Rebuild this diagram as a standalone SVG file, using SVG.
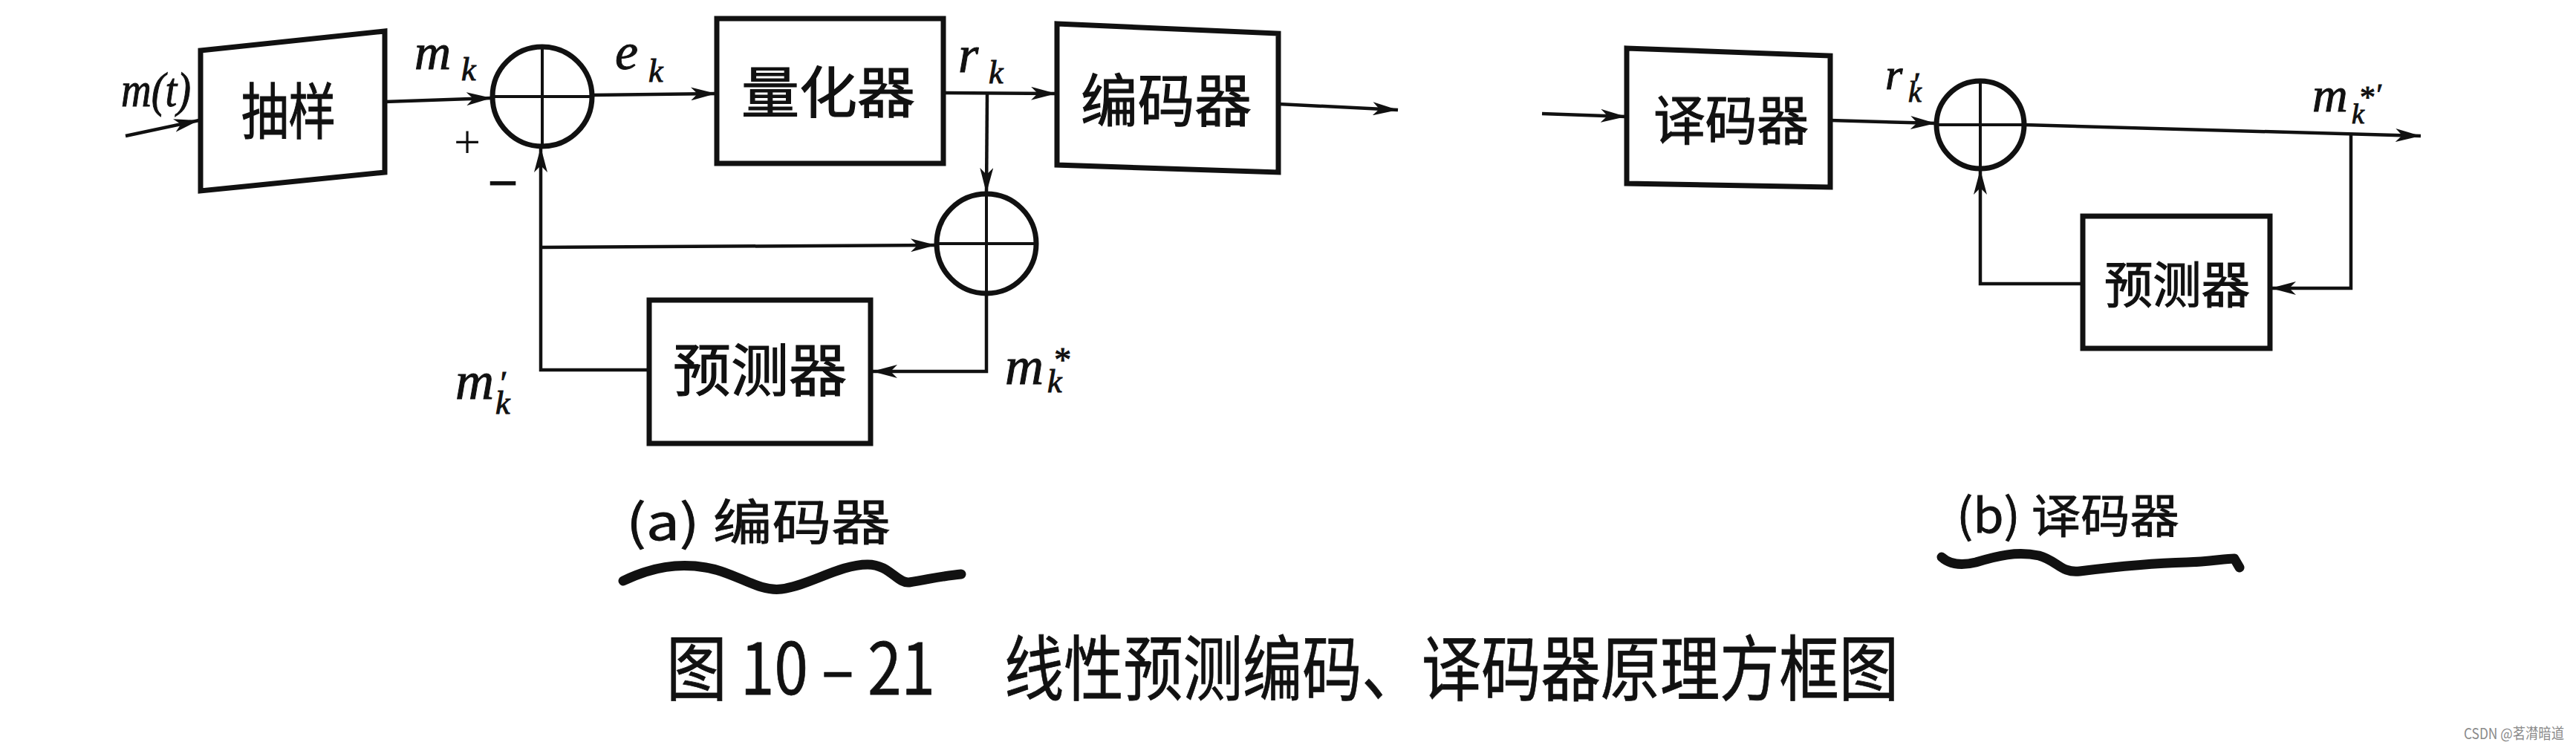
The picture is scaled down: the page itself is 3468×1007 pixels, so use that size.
<svg xmlns="http://www.w3.org/2000/svg" width="3468" height="1007" viewBox="0 0 3468 1007">
<style>
.box{fill:none;stroke:#111;stroke-width:7;stroke-linejoin:miter}
.sum{fill:none;stroke:#111;stroke-width:7}
.cross{stroke:#111;stroke-width:4}
.wire{fill:none;stroke:#111;stroke-width:4.5}
.arr{marker-end:url(#ah)}
.cjk{font-family:"Noto Sans CJK SC","Noto Sans",sans-serif;fill:#111;stroke:#111;stroke-width:1.2}
.cap{font-family:"Noto Sans CJK SC","Noto Sans",sans-serif;fill:#111;stroke:#111;stroke-width:0.8}
.math{font-family:"Liberation Serif",serif;font-style:italic;fill:#111;stroke:#111;stroke-width:1}
.sign{font-family:"Liberation Serif",serif;fill:#111}
.squig{fill:none;stroke:#111;stroke-width:13;stroke-linecap:round;stroke-linejoin:round}
</style>
<defs>
<marker id="ah" markerUnits="userSpaceOnUse" viewBox="0 0 34 18" refX="34" refY="9" markerWidth="34" markerHeight="18" orient="auto">
<path d="M0,0 L34,9 L0,18 L9,9 Z" fill="#111"/>
</marker>
</defs>
<rect width="3468" height="1007" fill="#ffffff"/>

<!-- Encoder nodes -->
<g id="sampler">
<polygon class="box" points="270,68 518,42 518,232 270,257"/>
<text class="cjk" x="325" y="180" font-size="82" textLength="127" lengthAdjust="spacingAndGlyphs">抽样</text>
</g>
<g id="sum1">
<circle class="sum" cx="730" cy="130" r="67"/>
<line class="cross" x1="663" y1="130" x2="797" y2="130"/>
<line class="cross" x1="730" y1="63" x2="730" y2="197"/>
</g>
<g id="quantizer">
<rect class="box" x="965" y="25" width="305" height="195"/>
<text class="cjk" x="998" y="152" font-size="75" textLength="234" lengthAdjust="spacingAndGlyphs">量化器</text>
</g>
<g id="encoder">
<polygon class="box" points="1423,32 1721,45 1721,232 1423,222"/>
<text class="cjk" x="1455" y="164" font-size="77" textLength="230" lengthAdjust="spacingAndGlyphs">编码器</text>
</g>
<g id="sum2">
<circle class="sum" cx="1328" cy="328" r="67"/>
<line class="cross" x1="1261" y1="328" x2="1395" y2="328"/>
<line class="cross" x1="1328" y1="261" x2="1328" y2="395"/>
</g>
<g id="predictor1">
<rect class="box" x="874" y="404" width="298" height="193"/>
<text class="cjk" x="906" y="527" font-size="77" textLength="234" lengthAdjust="spacingAndGlyphs">预测器</text>
</g>

<!-- Decoder nodes -->
<g id="decoder">
<polygon class="box" points="2190,65 2464,75 2464,252 2190,247"/>
<text class="cjk" x="2226" y="188" font-size="72" textLength="209" lengthAdjust="spacingAndGlyphs">译码器</text>
</g>
<g id="sum3">
<circle class="sum" cx="2666" cy="168" r="59"/>
<line class="cross" x1="2607" y1="168" x2="2725" y2="168"/>
<line class="cross" x1="2666" y1="109" x2="2666" y2="227"/>
</g>
<g id="predictor2">
<rect class="box" x="2804" y="291" width="252" height="178"/>
<text class="cjk" x="2833" y="408" font-size="67" textLength="196" lengthAdjust="spacingAndGlyphs">预测器</text>
</g>

<!-- Connectors -->
<g id="connectors">
<line class="wire arr" x1="169" y1="183" x2="268" y2="162"/>
<line class="wire arr" x1="518" y1="137" x2="662" y2="132"/>
<line class="wire arr" x1="797" y1="128" x2="964" y2="126"/>
<line class="wire arr" x1="1270" y1="125" x2="1422" y2="126"/>
<line class="wire arr" x1="1721" y1="140" x2="1882" y2="148"/>
<line class="wire arr" x1="1329" y1="125" x2="1328" y2="260"/>
<polyline class="wire arr" points="1328,395 1328,500 1174,500"/>
<polyline class="wire arr" points="874,498 728,498 728,198"/>
<line class="wire arr" x1="728" y1="333" x2="1260" y2="330"/>
<line class="wire arr" x1="2076" y1="153" x2="2189" y2="157"/>
<line class="wire arr" x1="2464" y1="162" x2="2606" y2="166"/>
<line class="wire arr" x1="2725" y1="168" x2="3259" y2="183"/>
<polyline class="wire arr" points="3165,181 3165,388 3057,388"/>
<polyline class="wire arr" points="2804,382 2666,382 2666,228"/>
</g>

<!-- Signal labels -->
<g id="labels">
<text class="math" x="163" y="143" font-size="66" textLength="94" lengthAdjust="spacingAndGlyphs">m(t)</text>
<text class="math"><tspan x="558" y="93" font-size="68">m</tspan><tspan x="621" y="108" font-size="44">k</tspan></text>
<text class="math"><tspan x="828" y="93" font-size="70">e</tspan><tspan x="873" y="110" font-size="44">k</tspan></text>
<text class="math"><tspan x="1290" y="97" font-size="70">r</tspan><tspan x="1331" y="112" font-size="44">k</tspan></text>
<text class="sign" x="629" y="213" font-size="64" text-anchor="middle">+</text>
<text class="sign" x="677" y="270" font-size="70" text-anchor="middle" stroke="#111" stroke-width="2">−</text>
<text class="math"><tspan x="613" y="537" font-size="72">m</tspan><tspan x="671" y="530" font-size="44">′</tspan><tspan x="667" y="557" font-size="44">k</tspan></text>
<text class="math"><tspan x="1353" y="517" font-size="72">m</tspan><tspan x="1417" y="500" font-size="46">*</tspan><tspan x="1410" y="528" font-size="44">k</tspan></text>
<text class="math"><tspan x="2538" y="120" font-size="60">r</tspan><tspan x="2574" y="127" font-size="42">′</tspan><tspan x="2569" y="137" font-size="40">k</tspan></text>
<text class="math"><tspan x="3113" y="150" font-size="66">m</tspan><tspan x="3175" y="145" font-size="42">*</tspan><tspan x="3197" y="140" font-size="40">′</tspan><tspan x="3166" y="166" font-size="38">k</tspan></text>
</g>

<!-- Captions -->
<g id="captions">
<text class="cap" x="843" y="727" font-size="66" textLength="356" lengthAdjust="spacingAndGlyphs">(a) 编码器</text>
<path class="squig" d="M839,782 C880,762 915,758 950,764 C990,770 1020,797 1052,793 C1090,788 1130,760 1168,760 C1198,760 1208,786 1224,784 C1250,780 1270,775 1294,773"/>
<text class="cap" x="2634" y="717" font-size="63" textLength="300" lengthAdjust="spacingAndGlyphs">(b) 译码器</text>
<path class="squig" d="M2614,750 C2625,760 2640,762 2660,757 C2690,748 2715,742 2745,748 C2770,755 2775,772 2800,769 C2840,764 2900,758 2944,757 C2975,756 2995,752 3008,752 L3015,764"/>
<text class="cap" x="897" y="935" font-size="96" textLength="362" lengthAdjust="spacingAndGlyphs">图 10 – 21</text>
<text class="cap" x="1352" y="935" font-size="96" textLength="1204" lengthAdjust="spacingAndGlyphs">线性预测编码、译码器原理方框图</text>
<text x="3317" y="995" font-family="Noto Sans CJK SC, Noto Sans, sans-serif" font-size="20" fill="#8a8a8a" textLength="135" lengthAdjust="spacingAndGlyphs">CSDN @茗潸暗道</text>
</g>
</svg>
